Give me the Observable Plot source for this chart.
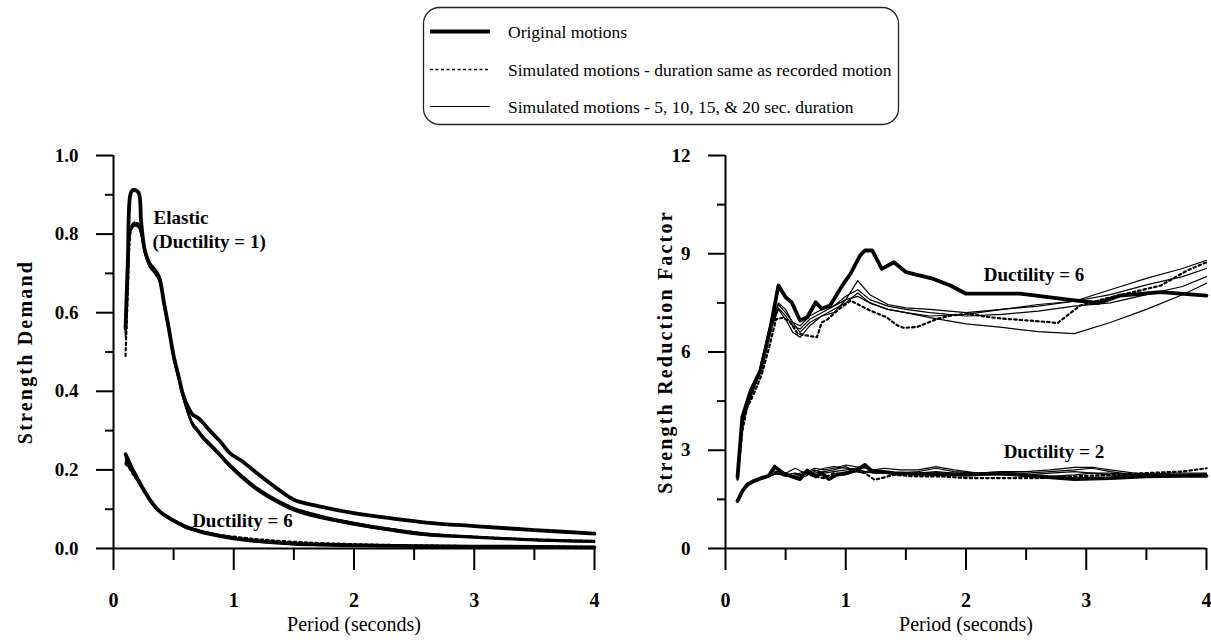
<!DOCTYPE html>
<html>
<head>
<meta charset="utf-8">
<script src="https://cdn.jsdelivr.net/npm/d3@7"></script>
<script src="https://cdn.jsdelivr.net/npm/@observablehq/plot@0.6"></script>
<style>
  html, body { margin: 0; padding: 0; background: #fff; }
  #page { position: relative; width: 1211px; height: 643px; overflow: hidden; background: #fff; font-family: "Liberation Serif", "Times New Roman", serif; }
  #legend { position: absolute; left: 0; top: 0; }
  #demand { position: absolute; left: 0; top: 130px; width: 620px; }
  #reduction { position: absolute; left: 612px; top: 130px; width: 599px; }
</style>
</head>
<body>
<div id="page">
  <div id="legend"></div>
  <div id="demand"></div>
  <div id="reduction"></div>
</div>
<script>
// ---------- Legend entries ----------
const legendLabels = [
  "Original motions",
  "Simulated motions - duration same as recorded motion",
  "Simulated motions - 5, 10, 15, & 20 sec. duration"
];

// ---------- Left panel: strength demand vs. period ----------
const demandYTicks = [0, 0.2, 0.4, 0.6, 0.8, 1.0];
const demandYMinor = [0.1, 0.3, 0.5, 0.7, 0.9];
const periodTicks = [0, 1, 2, 3, 4];
const periodMinor = [0.5, 1.5, 2.5, 3.5];

const demandPeriods = [0.10,0.12,0.14,0.16,0.18,0.21,0.23,0.26,0.30,0.34,0.38,0.42,0.46,0.50,0.54,0.58,0.62,0.66,0.70,0.75,0.80,0.88,0.97,1.07,1.20,1.35,1.50,1.70,2.00,2.30,2.60,3.00,3.50,4.00];
const demandElasticOriginal = [0.56,0.74,0.90,0.912,0.912,0.905,0.83,0.76,0.725,0.71,0.69,0.625,0.56,0.49,0.44,0.39,0.36,0.34,0.333,0.318,0.30,0.275,0.242,0.222,0.19,0.155,0.124,0.108,0.09,0.077,0.066,0.057,0.047,0.038];
const demandElasticSameDuration = [0.49,0.66,0.80,0.826,0.83,0.825,0.80,0.757,0.722,0.707,0.687,0.622,0.557,0.487,0.437,0.387,0.347,0.317,0.302,0.282,0.267,0.242,0.212,0.184,0.152,0.124,0.102,0.084,0.065,0.050,0.038,0.030,0.023,0.019];
const demandElastic5s  = [0.56,0.71,0.815,0.826,0.829,0.824,0.804,0.759,0.724,0.709,0.689,0.624,0.559,0.489,0.439,0.389,0.349,0.319,0.304,0.284,0.269,0.244,0.214,0.186,0.154,0.126,0.104,0.086,0.066,0.051,0.039,0.031,0.024,0.020];
const demandElastic10s = [0.55,0.70,0.81,0.822,0.825,0.82,0.80,0.755,0.72,0.705,0.685,0.62,0.555,0.485,0.435,0.385,0.345,0.315,0.30,0.28,0.265,0.24,0.21,0.182,0.15,0.122,0.100,0.082,0.063,0.048,0.036,0.029,0.022,0.018];
const demandElastic15s = [0.54,0.69,0.805,0.817,0.821,0.816,0.796,0.751,0.716,0.701,0.681,0.616,0.551,0.481,0.431,0.381,0.341,0.311,0.296,0.276,0.261,0.236,0.206,0.178,0.146,0.118,0.096,0.078,0.060,0.045,0.033,0.027,0.020,0.016];
const demandElastic20s = [0.545,0.695,0.812,0.82,0.823,0.818,0.798,0.753,0.718,0.703,0.683,0.618,0.553,0.483,0.433,0.383,0.343,0.313,0.298,0.278,0.263,0.238,0.208,0.180,0.148,0.120,0.098,0.080,0.061,0.046,0.034,0.028,0.021,0.017];

const demandDuct6Periods = [0.10,0.13,0.16,0.20,0.25,0.30,0.35,0.40,0.45,0.50,0.60,0.70,0.80,0.90,1.00,1.15,1.30,1.50,1.70,2.00,2.50,3.00,3.50,4.00];
const demandDuct6Original     = [0.24,0.22,0.20,0.178,0.15,0.125,0.105,0.09,0.08,0.071,0.055,0.045,0.037,0.031,0.026,0.02,0.016,0.012,0.01,0.008,0.006,0.005,0.004,0.003];
const demandDuct6SameDuration = [0.215,0.205,0.19,0.172,0.147,0.124,0.105,0.091,0.081,0.073,0.058,0.047,0.04,0.034,0.03,0.025,0.021,0.017,0.014,0.011,0.008,0.006,0.005,0.004];
const demandDuct6_5s  = [0.22,0.208,0.192,0.174,0.148,0.124,0.104,0.09,0.08,0.072,0.057,0.046,0.038,0.032,0.027,0.021,0.017,0.013,0.011,0.009,0.007,0.005,0.004,0.004];
const demandDuct6_10s = [0.218,0.206,0.19,0.171,0.146,0.122,0.103,0.089,0.079,0.07,0.055,0.045,0.037,0.031,0.026,0.02,0.016,0.012,0.01,0.008,0.006,0.005,0.004,0.003];
const demandDuct6_15s = [0.225,0.21,0.194,0.175,0.149,0.125,0.106,0.091,0.081,0.072,0.056,0.046,0.038,0.032,0.027,0.021,0.017,0.013,0.011,0.009,0.007,0.005,0.004,0.003];
const demandDuct6_20s = [0.23,0.214,0.197,0.176,0.15,0.126,0.106,0.092,0.082,0.073,0.057,0.047,0.039,0.033,0.028,0.022,0.018,0.014,0.012,0.009,0.007,0.006,0.005,0.004];

// ---------- Right panel: strength reduction factor vs. period ----------
const reductionYTicks = [0, 3, 6, 9, 12];
const reductionYMinor = [1.5, 4.5, 7.5, 10.5];

const reductionDuct6OriginalPeriods = [0.10,0.14,0.21,0.29,0.37,0.44,0.50,0.55,0.62,0.68,0.75,0.80,0.87,0.98,1.04,1.12,1.16,1.22,1.30,1.40,1.50,1.73,1.87,2.00,2.45,2.70,2.92,3.10,3.28,3.62,4.00];
const reductionDuct6Original = [2.18,4.01,4.82,5.43,6.66,8.03,7.67,7.52,6.96,7.06,7.52,7.32,7.42,8.08,8.39,8.95,9.10,9.10,8.54,8.74,8.44,8.23,8.03,7.78,7.78,7.67,7.57,7.50,7.72,7.83,7.72];

const reductionDuct6SamePeriods = [0.10,0.14,0.18,0.235,0.30,0.36,0.42,0.48,0.54,0.60,0.68,0.76,0.80,0.85,0.93,1.04,1.12,1.20,1.34,1.43,1.48,1.59,1.76,1.87,2.01,2.20,2.34,2.45,2.70,2.76,2.84,2.95,3.15,3.62,3.84,4.00];
const reductionDuct6SameDuration = [2.1,3.6,4.3,4.72,5.3,6.1,7.0,7.05,6.9,6.56,6.5,6.45,6.9,7.0,7.27,7.57,7.42,7.27,7.06,6.81,6.74,6.76,7.01,7.11,7.17,7.06,7.01,6.98,6.91,6.88,7.11,7.42,7.62,8.03,8.49,8.74];

const reductionDuct6SimPeriods = [0.10,0.14,0.20,0.28,0.36,0.44,0.50,0.56,0.62,0.70,0.80,0.90,1.00,1.10,1.20,1.35,1.50,1.70,2.00,2.30,2.60,2.90,3.20,3.50,3.80,4.00];
const reductionDuct6Sim5s  = [2.2,3.9,4.6,5.3,6.6,7.45,7.2,6.9,6.6,6.9,7.1,7.2,7.6,8.18,7.75,7.45,7.35,7.3,7.2,7.3,7.4,7.55,7.9,8.25,8.55,8.8];
const reductionDuct6Sim10s = [2.2,3.8,4.5,5.3,6.5,7.3,7.0,6.6,6.45,6.8,7.1,7.3,7.5,7.8,7.5,7.3,7.2,7.05,6.86,6.75,6.62,6.56,6.9,7.3,7.75,8.1];
const reductionDuct6Sim15s = [2.2,3.9,4.6,5.4,6.6,7.35,7.1,6.8,6.7,7.0,7.2,7.4,7.7,7.9,7.6,7.4,7.3,7.2,7.1,7.15,7.25,7.4,7.5,7.75,8.0,8.3];
const reductionDuct6Sim20s = [2.2,3.9,4.7,5.4,6.7,7.5,7.3,6.9,6.8,7.1,7.3,7.4,7.6,7.7,7.5,7.3,7.2,7.1,7.15,7.3,7.45,7.55,7.75,8.05,8.3,8.55];

const reductionDuct2OriginalPeriods = [0.10,0.14,0.18,0.24,0.30,0.36,0.41,0.48,0.55,0.62,0.68,0.75,0.80,0.86,0.92,1.00,1.08,1.16,1.22,1.30,1.40,1.60,1.80,2.00,2.30,2.60,2.90,3.20,3.50,3.80,4.00];
const reductionDuct2Original = [1.45,1.75,1.95,2.07,2.15,2.22,2.5,2.3,2.2,2.12,2.38,2.2,2.3,2.12,2.25,2.3,2.38,2.55,2.35,2.35,2.3,2.28,2.27,2.25,2.3,2.2,2.12,2.15,2.2,2.22,2.22];

const reductionDuct2SamePeriods = [0.10,0.14,0.20,0.28,0.36,0.42,0.50,0.58,0.66,0.74,0.82,0.90,1.00,1.08,1.16,1.24,1.30,1.40,1.60,1.80,2.00,2.30,2.60,2.90,3.20,3.50,3.80,4.00];
const reductionDuct2SameDuration = [1.45,1.75,1.98,2.1,2.2,2.35,2.25,2.15,2.3,2.2,2.15,2.3,2.25,2.4,2.3,2.1,2.15,2.25,2.2,2.2,2.15,2.15,2.15,2.2,2.25,2.3,2.35,2.45];

const reductionDuct2SimPeriods = [0.10,0.14,0.20,0.28,0.36,0.42,0.50,0.58,0.66,0.74,0.82,0.90,1.00,1.08,1.16,1.24,1.32,1.45,1.60,1.75,1.90,2.10,2.30,2.50,2.70,2.90,3.05,3.20,3.40,3.70,4.00];
const reductionDuct2Sim5s  = [1.5,1.78,2.0,2.12,2.2,2.35,2.3,2.45,2.3,2.45,2.4,2.45,2.55,2.5,2.45,2.4,2.45,2.4,2.4,2.5,2.4,2.3,2.35,2.35,2.4,2.48,2.48,2.4,2.3,2.25,2.25];
const reductionDuct2Sim10s = [1.5,1.78,2.0,2.12,2.2,2.3,2.25,2.3,2.2,2.35,2.45,2.5,2.45,2.4,2.35,2.4,2.35,2.3,2.35,2.45,2.35,2.3,2.3,2.3,2.35,2.4,2.45,2.35,2.25,2.25,2.28];
const reductionDuct2Sim15s = [1.5,1.78,2.0,2.12,2.2,2.3,2.2,2.25,2.35,2.3,2.35,2.4,2.5,2.35,2.3,2.35,2.3,2.3,2.3,2.35,2.3,2.3,2.25,2.2,2.2,2.25,2.3,2.3,2.25,2.3,2.3];
const reductionDuct2Sim20s = [1.5,1.78,2.0,2.12,2.2,2.28,2.25,2.2,2.25,2.4,2.3,2.35,2.4,2.45,2.35,2.3,2.3,2.25,2.3,2.3,2.25,2.25,2.25,2.25,2.3,2.35,2.3,2.25,2.2,2.2,2.22];

// ---------- helpers ----------
const FONT = "Liberation Serif";
const toRows = (periods, values) => periods.map((t, i) => ({t, v: values[i]}));

const thickStyle   = {stroke: "black", strokeWidth: 3.8, strokeLinejoin: "round", strokeLinecap: "round"};
const thinStyle    = {stroke: "black", strokeWidth: 1.2, strokeLinejoin: "round"};
const bundleStyle  = {stroke: "black", strokeWidth: 1.6, strokeLinejoin: "round"};
const dashedStyle  = {stroke: "black", strokeWidth: 2.2, strokeDasharray: "2.5,3"};

function lineMark(periods, values, style, curve) {
  return Plot.line(toRows(periods, values), {x: "t", y: "v", curve, ...style});
}

// Axis lines, outward ticks, tick labels and titles, all placed through the plot's scales
function frameMarks(yTicks, yMinor, yFormat, yTitle, yTitleOffset) {
  const labelFont = {fontFamily: FONT, fill: "black", fontWeight: "bold"};
  return [
    Plot.ruleX([0], {stroke: "black", strokeWidth: 2}),
    Plot.ruleY([0], {stroke: "black", strokeWidth: 2}),
    Plot.ruleY(yTicks, {x1: 0, x2: 0, insetLeft: -17, stroke: "black", strokeWidth: 2}),
    Plot.ruleY(yMinor, {x1: 0, x2: 0, insetLeft: -8, stroke: "black", strokeWidth: 2}),
    Plot.text(yTicks, {x: 0, y: d => d, text: yFormat, dx: -35, textAnchor: "end", fontSize: 19, ...labelFont}),
    Plot.ruleX(periodTicks, {y1: 0, y2: 0, insetBottom: -22, stroke: "black", strokeWidth: 2}),
    Plot.ruleX(periodMinor, {y1: 0, y2: 0, insetBottom: -12, stroke: "black", strokeWidth: 2}),
    Plot.text(periodTicks, {x: d => d, y: 0, text: d => String(d), dy: 52, fontSize: 20, ...labelFont}),
    Plot.text(["Period (seconds)"], {frameAnchor: "bottom", dy: 82,
      fontSize: 20, fontFamily: FONT, fill: "black"}),
    Plot.text([yTitle], {frameAnchor: "left", dx: yTitleOffset, rotate: -90, textAnchor: "middle",
      fontSize: 20, ...labelFont})
  ];
}

function spaceTitle(svg, title) {
  d3.select(svg).selectAll("text")
    .filter(function() { return this.textContent === title; })
    .attr("letter-spacing", "2.2px");
}

// ---------- Left panel ----------
const annoStyle = {textAnchor: "start", fontSize: 19, fontWeight: "bold", fontFamily: FONT, fill: "black"};
const demandPlot = Plot.plot({
  width: 620, height: 513,
  marginLeft: 113, marginRight: 26, marginTop: 25, marginBottom: 95,
  x: {domain: [0, 4], axis: null},
  y: {domain: [0, 1], axis: null},
  style: {background: "transparent", overflow: "visible", fontFamily: FONT},
  marks: [
    Plot.text(["Elastic"], {x: 0.333, y: 0.84, ...annoStyle}),
    Plot.text(["(Ductility = 1)"], {x: 0.325, y: 0.779, ...annoStyle}),
    Plot.text(["Ductility = 6"], {x: 0.654, y: 0.071, ...annoStyle}),
    ...frameMarks(demandYTicks, demandYMinor, d3.format(".1f"), "Strength Demand", -88),
    lineMark(demandPeriods, demandElastic5s, bundleStyle, "catmull-rom"),
    lineMark(demandPeriods, demandElastic10s, bundleStyle, "catmull-rom"),
    lineMark(demandPeriods, demandElastic15s, bundleStyle, "catmull-rom"),
    lineMark(demandPeriods, demandElastic20s, bundleStyle, "catmull-rom"),
    lineMark(demandPeriods, demandElasticSameDuration, dashedStyle, "catmull-rom"),
    lineMark(demandPeriods, demandElasticOriginal, thickStyle, "catmull-rom"),
    lineMark(demandDuct6Periods, demandDuct6_5s, bundleStyle, "catmull-rom"),
    lineMark(demandDuct6Periods, demandDuct6_10s, bundleStyle, "catmull-rom"),
    lineMark(demandDuct6Periods, demandDuct6_15s, bundleStyle, "catmull-rom"),
    lineMark(demandDuct6Periods, demandDuct6_20s, bundleStyle, "catmull-rom"),
    lineMark(demandDuct6Periods, demandDuct6SameDuration, dashedStyle, "catmull-rom"),
    lineMark(demandDuct6Periods, demandDuct6Original, thickStyle, "catmull-rom")
  ]
});
document.getElementById("demand").appendChild(demandPlot);
spaceTitle(demandPlot, "Strength Demand");

// ---------- Right panel ----------
const reductionPlot = Plot.plot({
  width: 599, height: 513,
  marginLeft: 113, marginRight: 5, marginTop: 25, marginBottom: 95,
  x: {domain: [0, 4], axis: null},
  y: {domain: [0, 12], axis: null},
  style: {background: "transparent", overflow: "visible", fontFamily: FONT},
  marks: [
    Plot.text(["Ductility = 6"], {x: 2.147, y: 8.34, ...annoStyle}),
    Plot.text(["Ductility = 2"], {x: 2.313, y: 2.94, ...annoStyle}),
    ...frameMarks(reductionYTicks, reductionYMinor, d => String(d), "Strength Reduction Factor", -60),
    lineMark(reductionDuct6SimPeriods, reductionDuct6Sim5s, thinStyle, "linear"),
    lineMark(reductionDuct6SimPeriods, reductionDuct6Sim10s, thinStyle, "linear"),
    lineMark(reductionDuct6SimPeriods, reductionDuct6Sim15s, thinStyle, "linear"),
    lineMark(reductionDuct6SimPeriods, reductionDuct6Sim20s, thinStyle, "linear"),
    lineMark(reductionDuct6SamePeriods, reductionDuct6SameDuration, dashedStyle, "linear"),
    lineMark(reductionDuct6OriginalPeriods, reductionDuct6Original, thickStyle, "linear"),
    lineMark(reductionDuct2SimPeriods, reductionDuct2Sim5s, thinStyle, "linear"),
    lineMark(reductionDuct2SimPeriods, reductionDuct2Sim10s, thinStyle, "linear"),
    lineMark(reductionDuct2SimPeriods, reductionDuct2Sim15s, thinStyle, "linear"),
    lineMark(reductionDuct2SimPeriods, reductionDuct2Sim20s, thinStyle, "linear"),
    lineMark(reductionDuct2SamePeriods, reductionDuct2SameDuration, dashedStyle, "linear"),
    lineMark(reductionDuct2OriginalPeriods, reductionDuct2Original, thickStyle, "linear")
  ]
});
document.getElementById("reduction").appendChild(reductionPlot);
spaceTitle(reductionPlot, "Strength Reduction Factor");

// ---------- Legend box ----------
const legendSvg = d3.select("#legend").append("svg")
  .attr("width", 1211).attr("height", 130)
  .style("display", "block");
legendSvg.append("rect")
  .attr("x", 423.5).attr("y", 7.5).attr("width", 475).attr("height", 117)
  .attr("rx", 16).attr("ry", 16)
  .attr("fill", "none").attr("stroke", "#222").attr("stroke-width", 1.3);
const legendRows = [31.5, 69.5, 106.5];
legendLabels.forEach((label, i) => {
  legendSvg.append("line")
    .attr("x1", 430).attr("x2", 490).attr("y1", legendRows[i]).attr("y2", legendRows[i])
    .attr("stroke", "black")
    .attr("stroke-width", i === 0 ? 4 : i === 1 ? 1.6 : 1.2)
    .attr("stroke-dasharray", i === 1 ? "3,2.5" : null);
  legendSvg.append("text")
    .attr("x", 508).attr("y", legendRows[i])
    .attr("dominant-baseline", "central")
    .attr("font-family", FONT).attr("font-size", 17.5)
    .attr("fill", "black")
    .text(label);
});
</script>
</body>
</html>
